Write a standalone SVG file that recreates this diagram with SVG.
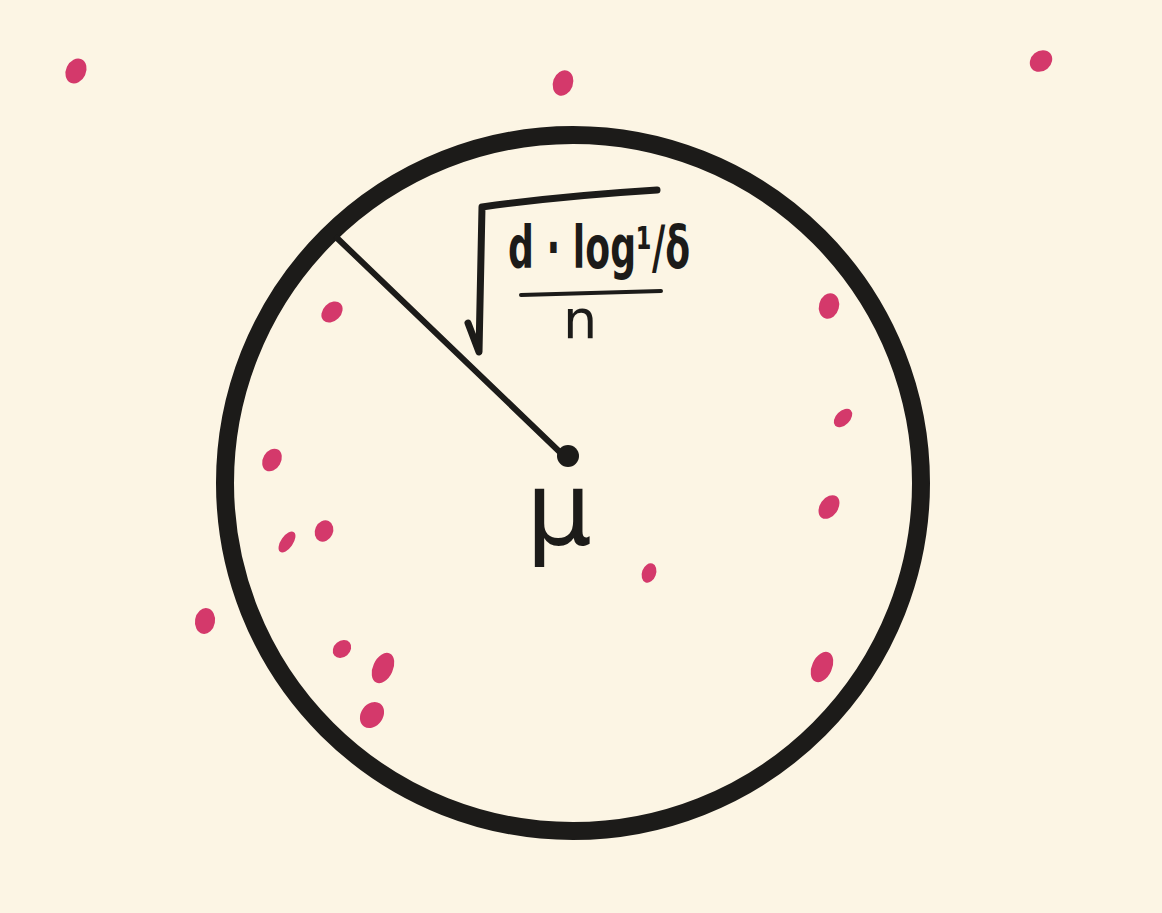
<svg xmlns="http://www.w3.org/2000/svg" width="1162" height="913" viewBox="0 0 1162 913">
<style>
.pt{fill:#d4396b}
.ink{stroke:#1c1b19;fill:none;stroke-linecap:round;stroke-linejoin:round}
.txt{fill:#1c1b19;font-family:"DejaVu Sans","Liberation Sans",sans-serif}
</style>
<rect x="0" y="0" width="1162" height="913" fill="#fcf5e4"/>
<g id="ball">
<circle cx="573" cy="483" r="348" class="ink" stroke-width="18"/>
</g>
<g id="radius">
<path d="M337 238 L566 458" class="ink" stroke-width="6"/>
<circle cx="568" cy="456" r="11" fill="#1c1b19"/>
</g>
<g id="formula">
<path d="M468 323 L479 352 L482 207 Q560 196 657 190" class="ink" stroke-width="7"/>
<path d="M521 295 L661 291" class="ink" stroke-width="4"/>
<text class="txt" x="508" y="268" font-size="58" font-weight="bold" textLength="182" lengthAdjust="spacingAndGlyphs">d · log¹/δ</text>
<text class="txt" x="563" y="338" font-size="54">n</text>
</g>
<g id="mu">
<text class="txt" x="526" y="545" font-size="104">μ</text>
</g>
<g id="points">
<ellipse class="pt" cx="76" cy="71" rx="10" ry="13" transform="rotate(25 76 71)"/>
<ellipse class="pt" cx="563" cy="83" rx="10" ry="13" transform="rotate(20 563 83)"/>
<ellipse class="pt" cx="1041" cy="61" rx="10" ry="12" transform="rotate(50 1041 61)"/>
<ellipse class="pt" cx="332" cy="312" rx="9" ry="12" transform="rotate(45 332 312)"/>
<ellipse class="pt" cx="829" cy="306" rx="10" ry="13" transform="rotate(15 829 306)"/>
<ellipse class="pt" cx="843" cy="418" rx="7" ry="11" transform="rotate(45 843 418)"/>
<ellipse class="pt" cx="272" cy="460" rx="9" ry="12" transform="rotate(30 272 460)"/>
<ellipse class="pt" cx="829" cy="507" rx="9" ry="13" transform="rotate(35 829 507)"/>
<ellipse class="pt" cx="287" cy="542" rx="6" ry="12" transform="rotate(35 287 542)"/>
<ellipse class="pt" cx="324" cy="531" rx="9" ry="11" transform="rotate(25 324 531)"/>
<ellipse class="pt" cx="649" cy="573" rx="7" ry="10" transform="rotate(20 649 573)"/>
<ellipse class="pt" cx="205" cy="621" rx="10" ry="13" transform="rotate(10 205 621)"/>
<ellipse class="pt" cx="342" cy="649" rx="8" ry="10" transform="rotate(50 342 649)"/>
<ellipse class="pt" cx="383" cy="668" rx="10" ry="16" transform="rotate(25 383 668)"/>
<ellipse class="pt" cx="822" cy="667" rx="10" ry="16" transform="rotate(25 822 667)"/>
<ellipse class="pt" cx="372" cy="715" rx="11" ry="14" transform="rotate(35 372 715)"/>
</g>
</svg>
